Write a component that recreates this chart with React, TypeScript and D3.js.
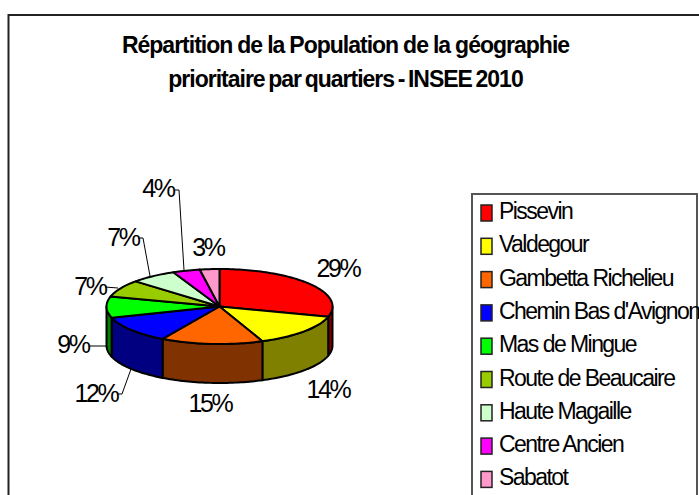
import React from 'react'
import * as d3 from 'd3'

const quartiers = ['Pissevin', 'Valdegour', 'Gambetta Richelieu', "Chemin Bas d'Avignon", 'Mas de Mingue', 'Route de Beaucaire', 'Haute Magaille', 'Centre Ancien', 'Sabatot']
const parts = [29.4, 14.4, 14.6, 11.8, 9.1, 7.4, 6.6, 3.9, 2.8]
const topColors = ['#ff0000', '#ffff00', '#ff6600', '#0000ff', '#00ff00', '#99cc00', '#ccffcc', '#ff00ff', '#ff99cc']
const sideColors = ['#800000', '#808000', '#803300', '#000080', '#008000', '#4d6600', '#668066', '#800080', '#804d66']
const titleLines = ['Répartition de la Population de la géographie', 'prioritaire par quartiers - INSEE 2010']
const titleWordSpacing = [-0.4, -1.8]

// label anchor (middle, baseline) and optional leader line, in page pixels
const labelPos = [[338, 277], [328, 398], [210, 412], [96, 402], [73, 353], [90, 295], [123, 246], [158, 197], [208, 256]]
const leaders: (number[][] | null)[] = [
  null, null, null,
  [[131, 369], [122, 394], [117, 394]],
  [[107, 346], [89, 346]],
  [[118, 288], [105, 287]],
  [[150, 276], [143, 238], [138, 238]],
  [[184, 270], [179, 190], [175, 190]],
  null,
]

const cx = 219.5
const cy = 306.5
const rx = 113
const ry = 37.5
const depth = 39

const slices = d3.pie<number>().sort(null)(parts)
const px = (a: number) => cx + rx * Math.sin(a)
const py = (a: number) => cy - ry * Math.cos(a)
const line = d3.line()

function arcPoints(a0: number, a1: number, dy = 0): [number, number][] {
  const n = Math.max(2, Math.ceil((a1 - a0) * 40))
  return d3.range(n + 1).map(i => {
    const a = a0 + (a1 - a0) * i / n
    return [px(a), py(a) + dy] as [number, number]
  })
}

export default function App() {
  return (
    <svg width={699} height={495} style={{ position: 'absolute', left: 0, top: 0 }} fontFamily="'Liberation Sans', Arial, sans-serif">
      <rect x={0} y={0} width={699} height={495} fill="#fff" />
      <path d="M8.5,495V15H699" fill="none" stroke="#222" strokeWidth={2} />

      {titleLines.map((t, i) => (
        <text key={i} x={345.5} y={53 + i * 34} textAnchor="middle" fontSize={23} fontWeight="bold" letterSpacing={-1} wordSpacing={titleWordSpacing[i]} fill="#000">{t}</text>
      ))}

      {/* side wall, only the front half of the pie shows */}
      {slices.map((s, i) => {
        const a0 = Math.max(s.startAngle, Math.PI / 2)
        const a1 = Math.min(s.endAngle, Math.PI * 1.5)
        if (a1 <= a0) return null
        const pts = [...arcPoints(a0, a1), ...arcPoints(a0, a1, depth).reverse()]
        return <path key={i} d={line(pts) + 'Z'} fill={sideColors[i]} stroke="#000" strokeWidth={2} strokeLinejoin="round" />
      })}

      {slices.map((s, i) => {
        const pts: [number, number][] = [[cx, cy], ...arcPoints(s.startAngle, s.endAngle)]
        return <path key={i} d={line(pts) + 'Z'} fill={topColors[i]} stroke="#000" strokeWidth={2} strokeLinejoin="round" />
      })}

      {leaders.map((l, i) => l && <path key={i} d={line(l as [number, number][])!} fill="none" stroke="#000" strokeWidth={1} />)}

      {parts.map((p, i) => (
        <text key={i} x={labelPos[i][0]} y={labelPos[i][1]} textAnchor="middle" fontSize={25} letterSpacing={-2.4} fill="#000">{Math.round(p)}%</text>
      ))}

      <path d="M472,495V194H697V495" fill="#fff" stroke="#555" strokeWidth={2} />
      {quartiers.map((q, i) => {
        const rowY = 219 + i * 33.3
        return (
          <g key={i}>
            <rect x={481} y={rowY - 14} width={11} height={16} fill={topColors[i]} stroke="#222" strokeWidth={1.5} />
            <text x={499} y={rowY} fontSize={23} letterSpacing={-1.55} fill="#000">{q}</text>
          </g>
        )
      })}
    </svg>
  )
}
